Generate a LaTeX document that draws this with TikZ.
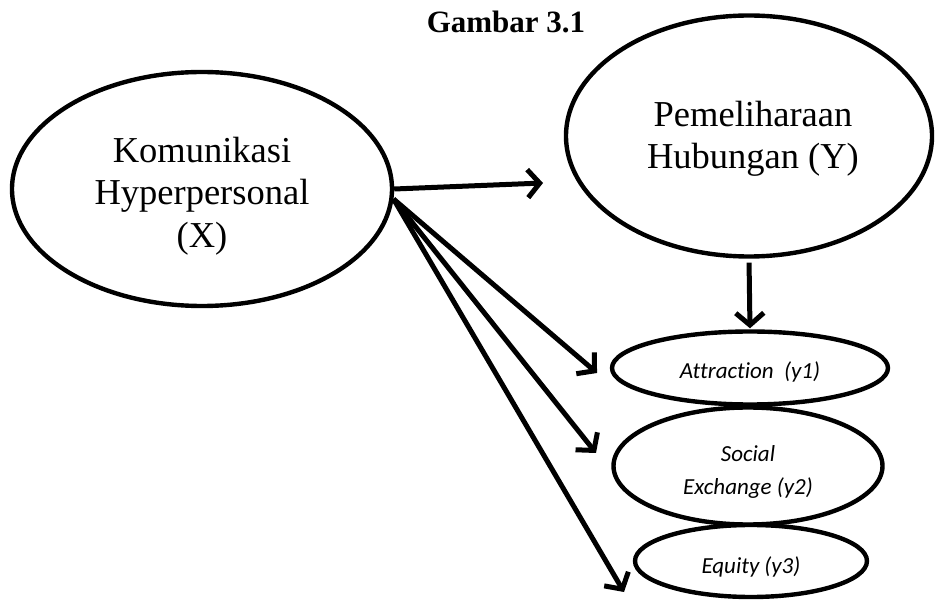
\documentclass[tikz,border=0pt]{standalone}
\usepackage{fontspec}
\setmainfont{Liberation Serif}
\newfontfamily\calibrifont[Ligatures=NoCommon]{Carlito}
\usetikzlibrary{shapes.geometric,arrows.meta}
\begin{document}
\begin{tikzpicture}[x=1pt,y=-1pt,
  big/.style={draw,line width=4.4pt,ellipse,inner sep=0pt},
  bigtext/.style={align=center,inner sep=0pt,font=\fontsize{36.5}{42.5}\selectfont},
  small/.style={draw,line width=4.4pt,ellipse,inner sep=0pt},
  smalltext/.style={align=center,inner sep=0pt,font=\calibrifont\itshape\fontsize{23}{33}\selectfont},
  arr/.style={line width=5pt,-{Straight Barb[length=12pt,width=28pt,line width=5pt]}}]
\useasboundingbox (0,0) rectangle (935,601);
\node[font=\bfseries\fontsize{31}{36}\selectfont] (title) at (506,22) {Gambar 3.1};
\node[big,minimum width=380pt,minimum height=234pt] (X) at (202,189) {};
\node[bigtext] (Xt) at (202,196) {Komunikasi\\Hyperpersonal\\(X)};
\node[big,minimum width=366pt,minimum height=241pt] (Y) at (749,136) {};
\node[bigtext] (Yt) at (753,139) {Pemeliharaan\\Hubungan (Y)};
\node[small,minimum width=276pt,minimum height=73pt] (A) at (750,368) {};
\node[smalltext] (At) at (750,372) {Attraction\ \ (y1)};
\node[small,minimum width=269pt,minimum height=117pt] (S) at (748,466) {};
\node[smalltext] (St) at (748,472) {Social\\Exchange (y2)};
\node[small,minimum width=232pt,minimum height=72pt] (E) at (751,561) {};
\node[smalltext] (Et) at (751,567) {Equity (y3)};
\coordinate (ty) at (543,183);
\coordinate (ta) at (597,373);
\coordinate (ts) at (596,453);
\coordinate (te) at (624,592);
\draw[arr] (X.east) -- (ty);
\draw[arr] (X.-3) -- (ta);
\draw[arr] (X.-3) -- (ts);
\draw[arr] (X.-3) -- (te);
\draw[arr,shorten <=4pt,shorten >=1pt] (Y.south) -- (A.north);
\end{tikzpicture}
\end{document}
